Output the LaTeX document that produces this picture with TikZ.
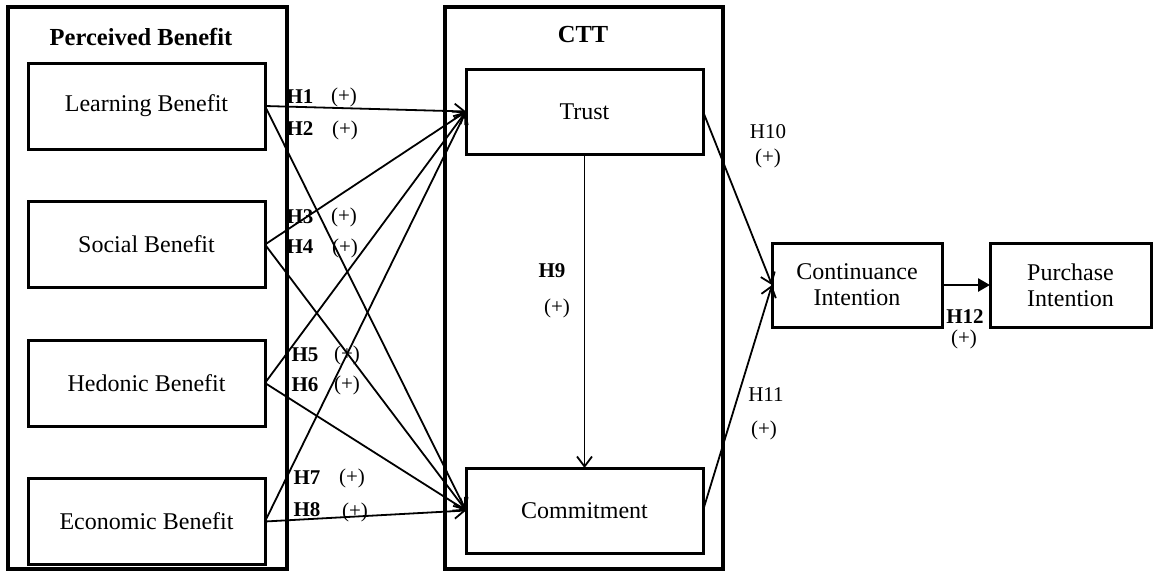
\documentclass[tikz,border=0pt]{standalone}
\usepackage{fontspec}
\setmainfont{Liberation Serif}
\usetikzlibrary{arrows.meta,positioning}
\tikzset{
  groupframe/.style={draw, line width=3.2pt},
  grouptitle/.style={font=\fontsize{24.5}{28}\selectfont\bfseries, inner sep=0pt},
  factorbox/.style={draw, line width=3pt, align=center, inner sep=0pt, outer sep=0pt,
    minimum width=237pt, minimum height=86pt, font=\fontsize{24}{26}\selectfont},
  hypo/.style={font=\fontsize{21}{24}\selectfont\bfseries, inner sep=0pt},
  hyporeg/.style={font=\fontsize{21}{24}\selectfont, inner sep=0pt},
  sign/.style={font=\fontsize{21}{24}\selectfont, inner sep=0pt},
  pathlink/.style={-{Straight Barb[length=10pt,width=15pt]}, line width=1.8pt},
  mainlink/.style={-{Triangle[length=12pt,width=13pt]}, line width=2.6pt}
}

\begin{document}
\begin{tikzpicture}[x=1pt, y=-1pt]
    \useasboundingbox (0,0) rectangle (1154,571);
    % group frames
    \draw[groupframe] (8,7) rectangle (287,569);
    \draw[groupframe] (445,7) rectangle (723,569);
    \node[grouptitle] (pbtitle) at (141,37) {Perceived Benefit};
    \node[grouptitle] (ctttitle) at (583,35) {CTT};

    % perceived benefit factors
    \node[factorbox] (learn) at (146.5,106) {Learning Benefit};
    \node[factorbox, below=52.5pt of learn] (social) {Social Benefit};
    \node[factorbox, below=52.5pt of social] (hedonic) {Hedonic Benefit};
    \node[factorbox, below=52.5pt of hedonic] (econ) {Economic Benefit};

    % CTT factors
    \node[factorbox, minimum height=85pt] (trust) at (584.5,111.5) {Trust};
    \node[factorbox, minimum height=85pt, below=314pt of trust] (commit) {Commitment};

    % outcomes
    \node[factorbox, minimum width=170pt, minimum height=84pt] (cont) at (857,285) {Continuance\\Intention};
    \node[factorbox, minimum width=161pt, minimum height=84pt, right=48pt of cont] (purch) {Purchase\\Intention};

    % paths
    \draw[pathlink] (learn.east) -- (trust.west);
    \draw[pathlink] (learn.east) -- (commit.west);
    \draw[pathlink] (social.east) -- (trust.west);
    \draw[pathlink] (social.east) -- (commit.west);
    \draw[pathlink] (hedonic.east) -- (trust.west);
    \draw[pathlink] (hedonic.east) -- (commit.west);
    \draw[pathlink] (econ.east) -- (trust.west);
    \draw[pathlink] (econ.east) -- (commit.west);
    \draw[pathlink] (trust.south) -- (commit.north);
    \draw[pathlink] (trust.east) -- (cont.west);
    \draw[pathlink] (commit.east) -- (cont.west);
    \draw[mainlink] (cont.east) -- (purch.west);

    % hypothesis labels
    \node[hypo] (h1) at (300,97) {H1};
    \node[sign] (s1) at (344,97) {(+)};
    \node[hypo] (h2) at (300,129) {H2};
    \node[sign] (s2) at (345,130) {(+)};
    \node[hypo] (h3) at (300,217) {H3};
    \node[sign] (s3) at (344,217) {(+)};
    \node[hypo] (h4) at (300,247) {H4};
    \node[sign] (s4) at (345,248) {(+)};
    \node[hypo] (h5) at (305,355) {H5};
    \node[sign] (s5) at (347,355) {(+)};
    \node[hypo] (h6) at (305,385) {H6};
    \node[sign] (s6) at (347,385) {(+)};
    \node[hypo] (h7) at (307,478) {H7};
    \node[sign] (s7) at (352,478) {(+)};
    \node[hypo] (h8) at (307,510) {H8};
    \node[sign] (s8) at (355,512) {(+)};
    \node[hypo] (h9) at (552,271) {H9};
    \node[sign] (s9) at (557,308) {(+)};
    \node[hyporeg] (h10) at (768,132) {H10};
    \node[sign] (s10) at (768,158) {(+)};
    \node[hyporeg] (h11) at (766,395) {H11};
    \node[sign] (s11) at (764,430) {(+)};
    \node[hypo] (h12) at (965,317) {H12};
    \node[sign] (s12) at (964,339) {(+)};
  \end{tikzpicture}
\end{document}
